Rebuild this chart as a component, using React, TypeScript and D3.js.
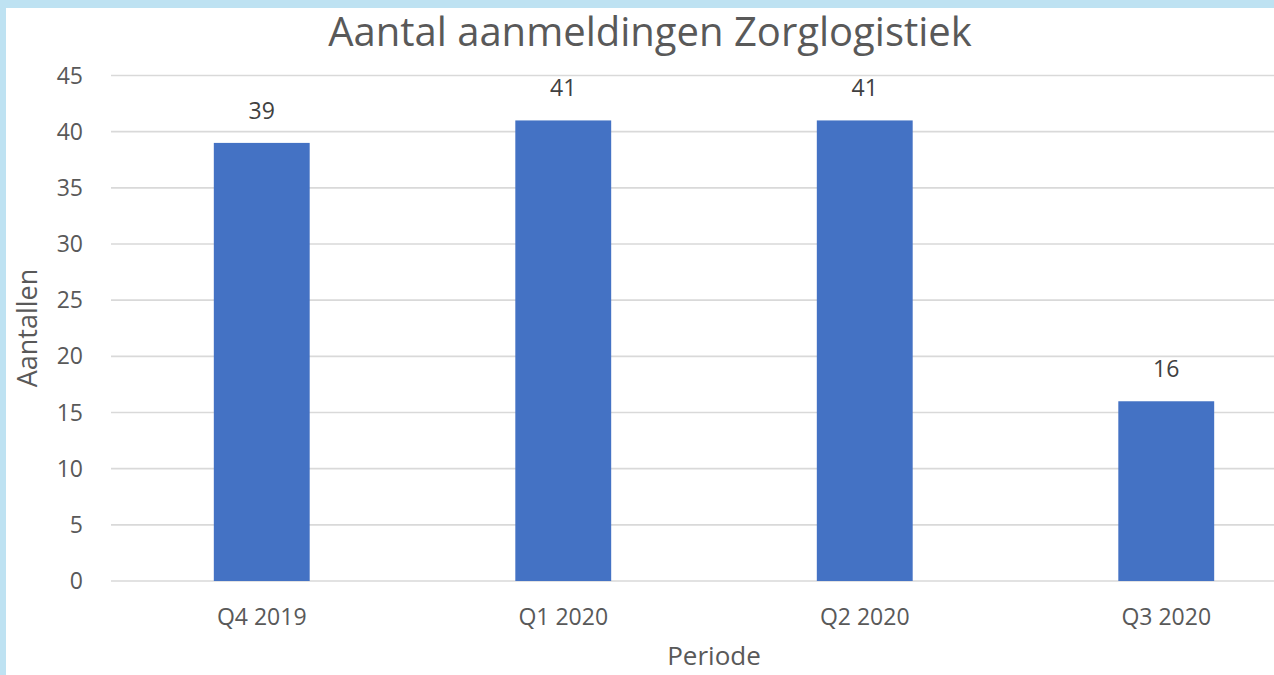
import React from "react";
import * as d3 from "d3";

const categories = ["Q4 2019", "Q1 2020", "Q2 2020", "Q3 2020"];
const values = [39, 41, 41, 16];
const yTicks = [0, 5, 10, 15, 20, 25, 30, 35, 40, 45];
const title = "Aantal aanmeldingen Zorglogistiek";
const xTitle = "Periode";
const yTitle = "Aantallen";

const W = 1274;
const H = 675;
const FONT = "'Open Sans', 'Noto Sans', sans-serif";
const TEXT = "#595959";

export default function App() {
  const x = d3.scaleBand<string>().domain(categories).range([111, 1317]).paddingInner(0.682).paddingOuter(0.341);
  const y = d3.scaleLinear().domain([0, 45]).range([581, 75.5]);
  const bw = x.bandwidth();
  return (
    <svg width={W} height={H} style={{ position: "absolute", left: 0, top: 0 }} fontFamily={FONT}>
      <rect x={0} y={0} width={W} height={H} fill="#bee2f2" />
      <rect x={6} y={8} width={W - 6} height={H - 8} fill="#ffffff" />
      {yTicks.map((t) => (
        <g key={t}>
          <line x1={111} x2={W} y1={y(t)} y2={y(t)} stroke="#d9d9d9" strokeWidth={1.6} />
          <text x={83} y={y(t)} dy="0.35em" textAnchor="end" fontSize={23} fill={TEXT}>
            {t}
          </text>
        </g>
      ))}
      {categories.map((c, i) => (
        <g key={c}>
          <rect x={x(c)!} y={y(values[i])} width={bw} height={y(0) - y(values[i])} fill="#4472c4" />
          <text x={x(c)! + bw / 2} y={y(values[i]) - 32} dy="0.35em" textAnchor="middle" fontSize={23} fill="#404040">
            {values[i]}
          </text>
          <text x={x(c)! + bw / 2} y={617} dy="0.35em" textAnchor="middle" fontSize={23} fill={TEXT}>
            {c}
          </text>
        </g>
      ))}
      <text x={650} y={32} dy="0.35em" textAnchor="middle" fontSize={40} fill={TEXT}>
        {title}
      </text>
      <text x={714} y={656} dy="0.35em" textAnchor="middle" fontSize={26} fill={TEXT}>
        {xTitle}
      </text>
      <text transform={`translate(28,328) rotate(-90)`} dy="0.35em" textAnchor="middle" fontSize={27} fill={TEXT}>
        {yTitle}
      </text>
    </svg>
  );
}
